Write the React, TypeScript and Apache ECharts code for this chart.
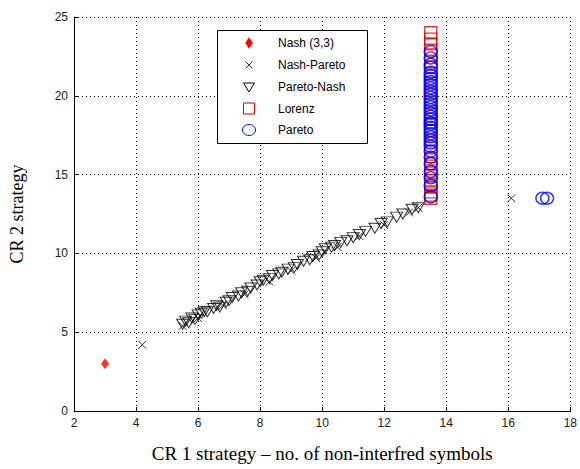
import React, { useEffect, useRef } from "react";
import * as echarts from "echarts";

const xTicks = { min: 2, max: 18, interval: 2 };
const yTicks = { min: 0, max: 25, interval: 5 };

const seriesNames = ["Nash (3,3)", "Nash-Pareto", "Pareto-Nash", "Lorenz", "Pareto"];

const nash: number[][] = [[3, 3]];

const nashPareto: number[][] = [
  [4.2, 4.2], [5.5, 5.4], [6.0, 5.9], [6.8, 6.7], [7.5, 7.4], [8.3, 8.2],
  [9.0, 8.9], [9.8, 9.7], [10.5, 10.4], [11.2, 11.1], [12.0, 11.8],
  [12.8, 12.6], [13.1, 12.9], [16.1, 13.5],
];

const paretoNash: number[][] = [
  [5.5, 5.5], [5.6, 5.7], [5.7, 5.6], [5.8, 5.9], [5.9, 5.8], [6.0, 6.1],
  [6.1, 6.2], [6.2, 6.3], [6.3, 6.3], [6.5, 6.5], [6.6, 6.7], [6.7, 6.6],
  [6.9, 6.9], [7.0, 7.0], [7.1, 7.2], [7.3, 7.3], [7.4, 7.5], [7.6, 7.6],
  [7.7, 7.8], [7.9, 8.0], [8.0, 8.2], [8.1, 8.3], [8.3, 8.4], [8.4, 8.6],
  [8.6, 8.7], [8.7, 8.8], [8.9, 9.0], [9.1, 9.1], [9.2, 9.3], [9.4, 9.5],
  [9.6, 9.6], [9.7, 9.8], [9.9, 9.9], [10.0, 10.1], [10.1, 10.3], [10.3, 10.4],
  [10.4, 10.5], [10.6, 10.7], [10.8, 10.8], [11.0, 11.0], [11.2, 11.2],
  [11.4, 11.4], [11.7, 11.6], [11.9, 11.9], [12.1, 12.0], [12.4, 12.3],
  [12.6, 12.5], [12.9, 12.8], [13.1, 12.9],
];

const lorenz: number[][] = [
  [13.5, 13.5], [13.5, 13.7], [13.5, 13.9], [13.5, 14.2], [13.5, 14.4],
  [13.5, 14.6], [13.5, 14.9], [13.5, 15.1], [13.5, 15.4], [13.5, 15.7],
  [13.5, 16.0], [13.5, 16.3], [13.5, 16.7], [13.5, 17.2], [13.5, 17.8],
  [13.5, 18.5], [13.5, 19.0], [13.5, 19.6], [13.5, 20.2], [13.5, 20.8],
  [13.5, 21.4], [13.5, 21.8], [13.5, 22.2], [13.5, 22.6], [13.5, 22.9],
  [13.5, 23.3], [13.5, 23.6], [13.5, 24.0],
];

const pareto: number[][] = [
  [13.5, 13.6], [13.5, 14.3], [13.5, 14.8], [13.5, 15.2], [13.5, 15.7],
  [13.5, 16.1], [13.5, 16.5], [13.5, 16.8], [13.5, 17.0], [13.5, 17.2],
  [13.5, 17.4], [13.5, 17.6], [13.5, 17.8], [13.5, 18.0], [13.5, 18.2],
  [13.5, 18.3], [13.5, 18.5], [13.5, 18.7], [13.5, 18.9], [13.5, 19.1],
  [13.5, 19.3], [13.5, 19.5], [13.5, 19.7], [13.5, 19.9], [13.5, 20.1],
  [13.5, 20.3], [13.5, 20.5], [13.5, 20.7], [13.5, 20.9], [13.5, 21.1],
  [13.5, 21.3], [13.5, 21.5], [13.5, 21.8], [13.5, 22.0], [13.5, 22.4],
  [13.5, 22.8],
  [17.1, 13.5], [17.25, 13.5],
];

const crossPath = "path://M0,0L10,10M10,0L0,10";
const triDownPath = "path://M0,0L12,0L6,10Z";
const diamondPath = "path://M4,0L8,6L4,12L0,6Z";
const squarePath = "path://M0,0L10,0L10,10L0,10Z";

const RED = "#ff0000";
const LRED = "#e00000";
const BLUE = "#0000ff";

export default function App() {
  const ref = useRef<HTMLDivElement>(null);
  useEffect(() => {
    if (!ref.current) return;
    const chart = echarts.init(ref.current, null, { renderer: "svg" });
    const axisLabel = { color: "#222", fontFamily: "Liberation Sans", fontSize: 12 };
    const openBlack = { color: "transparent", borderColor: "#000", borderWidth: 1 };
    const openRed = { color: "transparent", borderColor: LRED, borderWidth: 1.3 };
    const openBlue = { color: "transparent", borderColor: BLUE, borderWidth: 1.4 };

    // legend drawn with graphic elements
    const lx = 249;
    const tx = 278;
    const rows = [43, 65, 87, 108.5, 130];
    const legendGraphic: any[] = [
      {
        type: "rect",
        z: 10,
        shape: { x: 217.5, y: 30.5, width: 150, height: 113 },
        style: { fill: "#fff", stroke: "#000", lineWidth: 1 },
      },
      {
        type: "polygon",
        z: 11,
        shape: { points: [[lx, rows[0] - 5.5], [lx + 3.5, rows[0]], [lx, rows[0] + 5.5], [lx - 3.5, rows[0]]] },
        style: { fill: RED, stroke: RED, lineWidth: 0.5 },
      },
      {
        type: "line",
        z: 11,
        shape: { x1: lx - 3.5, y1: rows[1] - 3.5, x2: lx + 3.5, y2: rows[1] + 3.5 },
        style: { stroke: "#333", lineWidth: 1 },
      },
      {
        type: "line",
        z: 11,
        shape: { x1: lx + 3.5, y1: rows[1] - 3.5, x2: lx - 3.5, y2: rows[1] + 3.5 },
        style: { stroke: "#333", lineWidth: 1 },
      },
      {
        type: "polygon",
        z: 11,
        shape: { points: [[lx - 5.5, rows[2] - 4], [lx + 5.5, rows[2] - 4], [lx, rows[2] + 5]] },
        style: { fill: "none", stroke: "#000", lineWidth: 1 },
      },
      {
        type: "rect",
        z: 11,
        shape: { x: lx - 5.5, y: rows[3] - 5.5, width: 11, height: 11 },
        style: { fill: "none", stroke: LRED, lineWidth: 1 },
      },
      {
        type: "ellipse",
        z: 11,
        shape: { cx: lx, cy: rows[4], rx: 6.5, ry: 5.5 },
        style: { fill: "none", stroke: BLUE, lineWidth: 1 },
      },
    ];
    seriesNames.forEach((n, i) => {
      legendGraphic.push({
        type: "text",
        z: 11,
        x: tx,
        y: rows[i],
        style: {
          text: n,
          fill: "#000",
          font: "12px 'Liberation Sans'",
          verticalAlign: "middle",
          align: "left",
        },
      });
    });

    chart.setOption({
      animation: false,
      backgroundColor: "#fff",
      grid: { left: 74, right: 6, top: 17, bottom: 58 },
      xAxis: {
        type: "value",
        ...xTicks,
        name: "CR 1 strategy \u2013 no. of non-interfred symbols",
        nameLocation: "middle",
        nameGap: 33,
        nameTextStyle: { fontFamily: "Liberation Serif", fontSize: 19, color: "#000" },
        axisLine: { show: true, onZero: false, lineStyle: { color: "#000", width: 1 } },
        axisTick: { show: true, inside: true, length: 4, lineStyle: { color: "#000" } },
        axisLabel: { ...axisLabel, margin: 6 },
        splitLine: { show: true, lineStyle: { type: [1, 3], color: "#000", width: 1 } },
      },
      yAxis: {
        type: "value",
        ...yTicks,
        name: "CR 2 strategy",
        nameLocation: "middle",
        nameGap: 48,
        nameTextStyle: { fontFamily: "Liberation Serif", fontSize: 18, color: "#000" },
        axisLine: { show: true, onZero: false, lineStyle: { color: "#000", width: 1 } },
        axisTick: { show: true, inside: true, length: 4, lineStyle: { color: "#000" } },
        axisLabel: { ...axisLabel, margin: 6 },
        splitLine: { show: true, lineStyle: { type: [1, 3], color: "#000", width: 1 } },
      },
      graphic: legendGraphic,
      series: [
        {
          name: seriesNames[0],
          type: "scatter",
          data: nash,
          symbol: diamondPath,
          symbolSize: [8, 11],
          itemStyle: { color: RED },
        },
        {
          name: seriesNames[1],
          type: "scatter",
          data: nashPareto,
          symbol: crossPath,
          symbolSize: 8,
          itemStyle: openBlack,
        },
        {
          name: seriesNames[2],
          type: "scatter",
          data: paretoNash,
          symbol: triDownPath,
          symbolSize: [12, 10],
          itemStyle: openBlack,
        },
        {
          name: seriesNames[3],
          type: "scatter",
          data: lorenz,
          symbol: squarePath,
          symbolSize: 12,
          itemStyle: openRed,
        },
        {
          name: seriesNames[4],
          type: "scatter",
          data: pareto,
          symbol: "circle",
          symbolSize: [13, 12],
          itemStyle: openBlue,
        },
      ],
    });
    return () => chart.dispose();
  }, []);
  return (
    <div
      ref={ref}
      style={{ position: "absolute", left: 0, top: 0, width: 580, height: 469 }}
    />
  );
}
